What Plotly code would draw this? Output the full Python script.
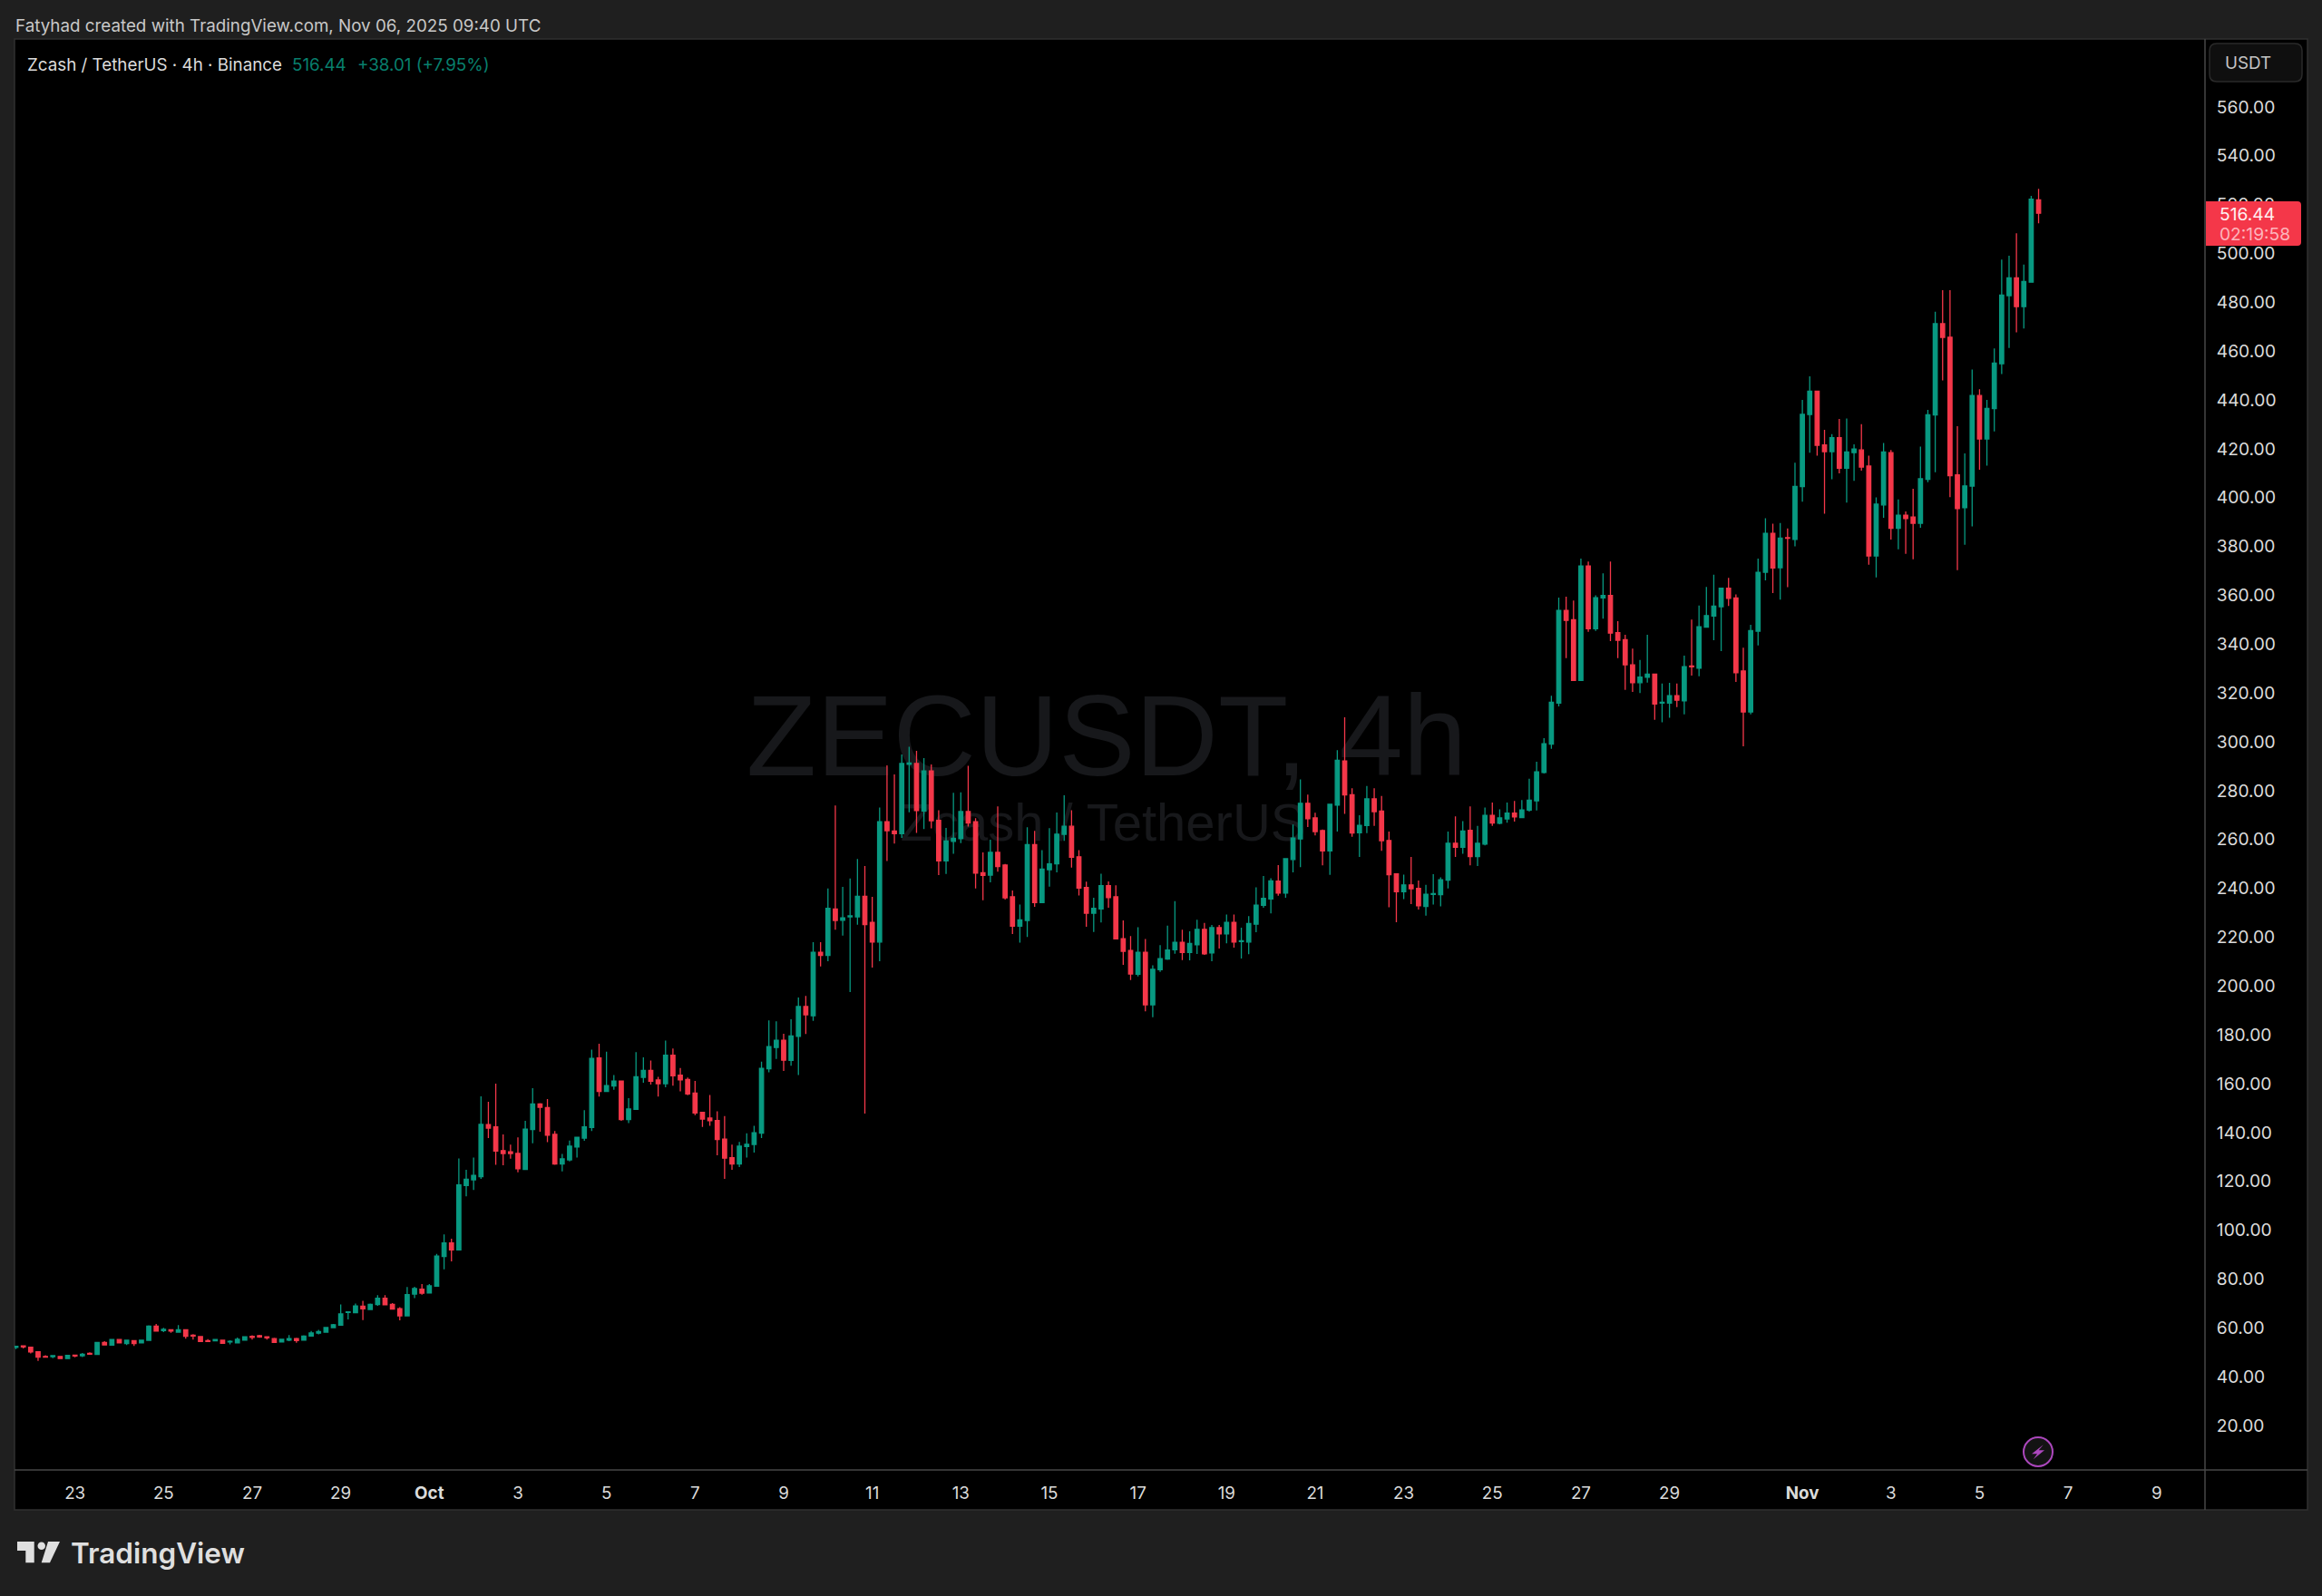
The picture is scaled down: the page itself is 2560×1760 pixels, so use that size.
import pandas as pd
import plotly.graph_objects as go

# 4h candles, Sep 21 16:00 UTC onward
first_bar = "2025-09-21 16:00"

opens = [
    52.0,52.6,52.1,50.2,48.3,48.2,48.3,47.4,48.8,48.6,
    49.6,49.1,54.0,52.9,55.2,53.6,54.8,53.8,54.9,60.7,
    58.9,59.2,58.2,59.2,57.0,56.4,54.8,54.7,54.9,54.2,
    53.8,55.0,56.5,56.8,56.3,55.6,54.2,55.0,55.6,55.0,
    56.6,57.8,58.2,60.1,61.1,66.3,66.2,68.9,67.5,69.5,
    72.1,69.6,67.8,64.9,73.8,75.8,74.3,77.1,89.2,94.8,
    91.9,118.3,120.6,121.9,143.2,142.3,132.6,132.1,131.4,124.9,
    141.2,151.7,150.2,139.2,127.1,128.8,134.1,137.7,142.0,170.5,
    156.8,159.0,161.1,145.3,149.5,162.6,165.4,161.5,160.0,171.6,
    163.5,161.7,156.1,148.2,145.9,144.9,137.3,129.7,127.1,134.2,
    135.1,139.7,166.1,174.8,177.8,169.5,179.4,191.6,187.8,213.8,
    212.5,231.5,226.9,228.3,228.3,236.7,226.0,218.0,267.3,263.5,
    262.4,290.8,291.1,271.6,288.1,267.8,251.2,259.2,260.3,271.4,
    267.3,246.4,245.4,254.7,249.5,236.5,224.5,226.8,257.9,234.1,
    247.6,250.0,262.1,265.4,252.9,240.3,229.8,231.5,241.1,236.5,
    219.4,214.5,204.8,213.8,192.3,206.7,211.0,214.8,217.9,213.7,
    216.9,223.2,213.5,223.9,221.3,226.0,218.2,218.0,225.3,233.0,
    235.6,242.9,238.0,251.8,260.2,274.8,268.8,263.6,255.3,274.1,
    292.1,278.3,262.7,265.7,276.6,271.6,259.6,245.9,238.6,241.4,
    240.0,232.6,237.5,237.4,243.3,258.4,256.8,263.7,253.0,258.1,
    269.9,266.6,268.4,270.8,269.0,272.0,275.8,287.4,299.0,315.8,
    353.8,350.0,325.1,372.0,346.3,358.9,359.9,344.7,341.8,331.5,
    324.2,326.4,327.7,315.8,315.8,318.9,316.8,331.0,330.1,346.9,
    351.5,355.3,362.9,358.9,329.0,312.2,345.3,369.4,385.4,371.3,
    383.6,382.9,404.5,434.0,443.6,421.6,418.8,424.5,412.0,418.4,
    419.5,412.9,376.1,397.0,418.4,387.4,392.8,392.0,389.5,407.5,
    433.8,471.2,465.7,409.3,395.9,404.7,441.8,424.0,436.4,454.8,
    482.7,490.0,478.2,488.2,521.9,
]
highs = [
    52.6,52.6,52.2,50.2,48.8,48.6,48.3,49.0,49.0,49.7,
    50.0,54.2,54.5,55.5,55.5,55.2,54.8,55.2,61.0,61.6,
    60.0,59.2,61.1,59.2,57.4,56.6,55.4,55.3,55.2,54.9,
    56.0,56.4,56.9,57.1,56.4,55.9,55.5,57.0,55.9,56.9,
    58.7,59.2,60.2,61.6,69.6,66.7,69.9,71.1,69.9,73.4,
    73.4,70.1,68.5,76.7,76.8,77.9,77.9,90.3,98.3,96.5,
    129.4,124.7,129.7,154.8,152.6,160.0,139.2,135.0,138.0,144.8,
    158.1,152.0,153.7,140.6,131.2,136.7,138.3,149.1,173.9,176.3,
    173.1,163.5,161.2,154.1,172.9,170.8,169.5,162.8,177.6,174.4,
    166.4,162.5,161.1,148.5,155.4,148.7,146.7,135.0,136.1,139.7,
    142.7,169.0,185.9,185.5,180.4,186.4,195.3,195.9,217.9,217.9,
    239.9,273.9,240.6,244.0,252.0,249.1,236.5,273.1,290.3,286.6,
    294.8,298.0,296.3,293.3,290.7,272.0,264.7,279.1,279.3,290.2,
    268.7,254.7,259.9,273.5,250.0,239.1,233.3,265.0,263.5,255.6,
    264.6,271.0,278.1,272.0,255.6,242.7,236.1,246.0,242.8,241.2,
    226.8,220.4,224.1,219.2,208.5,216.7,224.7,234.7,223.0,222.4,
    227.1,225.8,225.0,225.0,229.3,229.3,223.9,228.6,240.4,245.0,
    244.1,249.5,252.4,266.1,284.6,278.4,270.9,264.1,274.6,296.6,
    310.0,281.0,269.9,281.9,281.0,277.8,263.2,246.1,245.6,252.8,
    243.2,241.4,245.8,244.5,263.2,269.5,267.5,273.5,265.6,273.1,
    275.1,272.3,275.1,275.8,276.1,284.9,291.8,301.5,318.8,359.0,
    359.4,357.8,375.0,373.8,360.0,369.0,373.8,349.4,343.8,338.2,
    333.5,343.8,327.7,323.9,324.1,323.9,335.3,350.0,355.8,363.4,
    368.4,363.0,367.1,360.3,338.5,347.9,375.0,391.5,389.3,389.6,
    387.4,414.3,440.0,449.7,443.6,427.7,426.0,432.2,432.4,421.8,
    430.1,417.2,400.1,422.4,419.5,399.2,394.3,403.6,420.9,435.9,
    476.1,484.9,484.9,429.2,418.1,452.4,444.4,440.0,461.1,497.5,
    499.0,508.2,495.4,523.6,526.4,
]
lows = [
    51.3,51.6,49.5,46.5,47.9,47.6,47.2,47.2,47.9,48.0,
    49.1,49.1,52.9,52.9,53.7,53.0,52.6,53.8,54.9,58.6,
    58.2,58.0,58.2,55.6,55.2,54.3,54.3,54.4,53.6,53.2,
    53.8,54.9,55.2,55.9,55.2,53.8,54.0,54.5,53.9,55.0,
    56.5,57.3,58.1,60.0,61.0,63.4,66.2,63.2,67.3,69.0,
    69.3,67.5,63.1,64.9,72.2,73.6,74.3,77.1,84.0,87.2,
    91.7,113.9,116.5,121.0,137.7,126.8,126.6,129.3,123.7,124.6,
    135.6,140.3,136.0,126.8,124.1,128.2,129.7,136.6,140.6,154.7,
    156.8,157.5,144.8,143.8,149.5,160.4,159.6,154.7,158.5,159.2,
    156.8,155.3,147.1,142.3,142.7,130.7,121.0,124.7,125.8,129.7,
    131.8,137.7,164.6,170.1,165.2,167.3,163.5,180.3,185.7,208.0,
    210.1,223.0,220.6,197.5,225.1,147.7,207.5,210.1,251.2,258.3,
    260.6,271.1,262.7,264.3,264.5,245.4,245.9,254.1,258.5,265.3,
    239.9,235.1,242.4,246.8,235.4,221.3,217.7,220.1,232.4,234.1,
    240.7,246.5,259.4,248.5,237.1,224.2,222.1,226.0,232.0,219.3,
    208.6,202.4,203.9,189.6,187.2,205.8,210.7,213.2,210.6,210.5,
    213.1,212.7,210.1,215.3,217.5,215.7,211.2,213.0,222.0,232.0,
    229.7,237.0,236.1,246.5,248.7,265.1,261.7,249.4,245.5,263.2,
    270.5,261.1,252.8,262.6,265.6,255.3,232.2,226.1,235.6,233.5,
    231.3,228.8,233.3,232.6,239.9,252.8,254.1,249.4,249.1,257.6,
    265.6,266.2,266.9,267.3,269.0,271.4,271.9,287.0,297.1,314.5,
    334.3,325.1,325.1,345.0,345.4,350.4,341.2,334.3,321.3,320.4,
    320.0,324.2,309.0,308.0,309.8,314.2,311.2,327.1,326.8,346.9,
    341.6,337.1,355.6,324.5,298.1,311.2,339.5,366.1,360.9,358.2,
    363.3,380.0,398.3,418.4,417.2,393.4,407.5,409.9,397.9,406.9,
    411.0,372.5,367.3,391.7,382.8,378.8,377.0,374.7,387.6,406.3,
    410.4,448.0,400.2,370.3,380.7,388.2,411.4,413.1,427.1,450.6,
    461.3,467.7,469.2,488.2,512.3,
]
closes = [
    52.4,52.2,50.1,48.0,48.0,48.6,47.4,48.7,48.5,49.2,
    49.2,54.0,53.0,55.2,53.8,54.9,53.6,54.9,60.7,58.7,
    59.4,58.7,59.2,56.5,56.6,54.4,54.4,55.2,53.7,54.5,
    55.3,56.3,56.1,56.3,55.9,54.0,55.3,55.6,54.8,56.6,
    57.9,58.5,60.1,61.3,65.7,66.5,69.0,67.8,69.6,72.1,
    69.4,67.7,64.9,73.6,76.1,74.2,77.2,89.4,94.8,91.9,
    118.5,120.9,122.4,143.3,141.8,132.4,131.4,131.4,125.1,141.4,
    151.7,150.3,138.9,127.1,129.2,134.4,138.0,142.3,170.3,156.8,
    159.2,161.1,145.3,149.6,162.8,165.4,161.0,160.0,171.6,163.2,
    161.5,155.8,148.0,145.5,144.8,137.1,129.5,127.1,134.4,135.2,
    139.9,166.3,175.2,177.8,169.6,179.5,191.6,188.2,213.8,212.5,
    231.8,226.8,227.9,228.7,236.7,225.1,218.0,267.3,263.6,262.4,
    291.1,291.3,271.8,288.1,267.7,251.2,259.4,260.5,271.4,266.7,
    246.2,245.3,254.7,248.9,236.1,224.5,227.1,257.9,234.1,247.9,
    250.0,262.2,265.4,252.7,240.1,229.8,231.8,241.1,236.2,219.3,
    214.2,204.9,213.8,192.3,206.8,211.2,214.7,217.9,213.7,217.4,
    223.2,213.2,223.9,221.3,226.0,218.0,218.5,225.6,233.1,235.9,
    243.0,238.0,252.1,260.6,274.8,268.5,263.2,255.3,274.4,292.4,
    278.2,262.6,265.8,276.6,271.4,259.5,245.6,238.6,241.4,239.8,
    232.8,237.6,237.8,243.5,258.4,256.8,263.5,253.0,258.4,269.9,
    266.7,268.8,270.8,269.2,272.1,276.1,287.7,299.2,316.2,353.8,
    349.7,325.1,372.0,346.3,359.0,359.9,344.5,341.6,331.5,324.2,
    326.5,327.7,315.5,316.2,318.9,317.0,330.8,330.7,347.1,351.7,
    355.6,362.9,358.7,328.3,312.2,345.5,369.4,385.4,371.2,383.4,
    383.3,404.6,434.1,443.6,421.4,418.8,424.5,412.0,418.7,419.9,
    412.5,376.1,397.3,418.7,387.4,392.8,391.4,389.5,407.7,433.9,
    471.2,465.6,409.0,395.5,404.8,441.8,424.0,436.5,455.1,482.9,
    490.0,478.2,488.5,522.2,516.44,
]

price_ticks = list(range(20, 561, 20))
date_ticks = [
    "2025-09-23", "2025-09-25", "2025-09-27", "2025-09-29", "2025-10-01",
    "2025-10-03", "2025-10-05", "2025-10-07", "2025-10-09", "2025-10-11",
    "2025-10-13", "2025-10-15", "2025-10-17", "2025-10-19", "2025-10-21",
    "2025-10-23", "2025-10-25", "2025-10-27", "2025-10-29", "2025-11-01",
    "2025-11-03", "2025-11-05", "2025-11-07", "2025-11-09",
]
date_labels = [
    "23", "25", "27", "29", "<b>Oct</b>", "3", "5", "7", "9", "11", "13", "15",
    "17", "19", "21", "23", "25", "27", "29", "<b>Nov</b>", "3", "5", "7", "9",
]

GREEN = "#089981"
RED = "#f43749"
PAGE = "#1f1f1f"
RULE = "#474747"
FONT = "Inter"

# plot area in page pixels
W, H = 2560, 1760
L, R, T, B = 16, 2431, 43, 1621


def px(x):
    return (x - L) / (R - L)


def py(y):
    return (B - y) / (B - T)


def box(x0, y0, x1, y1, **kw):
    return dict(type="rect", xref="paper", yref="paper", x0=px(x0), x1=px(x1),
                y0=py(y0), y1=py(y1), **kw)


def rule(x0, y0, x1, y1, color=RULE, width=1.5):
    return dict(type="line", xref="paper", yref="paper", x0=px(x0), x1=px(x1),
                y0=py(y0), y1=py(y1), line=dict(color=color, width=width))


def poly(points, **kw):
    d = "M" + " L".join(f"{px(x):.5f},{py(y):.5f}" for x, y in points) + " Z"
    return dict(type="path", xref="paper", yref="paper", path=d, **kw)


def rounded(x0, y0, x1, y1, rl, rr, **kw):
    d = (f"M{px(x0 + rl):.5f},{py(y0):.5f} L{px(x1 - rr):.5f},{py(y0):.5f} "
         f"Q{px(x1):.5f},{py(y0):.5f} {px(x1):.5f},{py(y0 + rr):.5f} "
         f"L{px(x1):.5f},{py(y1 - rr):.5f} "
         f"Q{px(x1):.5f},{py(y1):.5f} {px(x1 - rr):.5f},{py(y1):.5f} "
         f"L{px(x0 + rl):.5f},{py(y1):.5f} "
         f"Q{px(x0):.5f},{py(y1):.5f} {px(x0):.5f},{py(y1 - rl):.5f} "
         f"L{px(x0):.5f},{py(y0 + rl):.5f} "
         f"Q{px(x0):.5f},{py(y0):.5f} {px(x0 + rl):.5f},{py(y0):.5f} Z")
    return dict(type="path", xref="paper", yref="paper", path=d, **kw)


def label(x, y, text, size, color, anchor="left", weight=None, family=FONT):
    return dict(xref="paper", yref="paper", x=px(x), y=py(y), text=text, showarrow=False,
                xanchor=anchor, yanchor="middle", align="left",
                font=dict(family=family, size=size, color=color, weight=weight))


dates = pd.date_range(first_bar, periods=len(opens), freq="4h")

fig = go.Figure()

# watermark sits behind the candles
fig.add_trace(go.Scatter(
    x=["2025-10-16 07:00"], y=[298], mode="text", text=["ZECUSDT, 4h"],
    textposition="middle center", hoverinfo="skip", showlegend=False,
    textfont=dict(family="Liberation Sans", size=126.5, color="#17181b"), zorder=0,
))
fig.add_trace(go.Scatter(
    x=["2025-10-16 05:00"], y=[265], mode="text", text=["Zcash / TetherUS"],
    textposition="middle center", hoverinfo="skip", showlegend=False,
    textfont=dict(family="Liberation Sans", size=58, color="#17181b"), zorder=0,
))
fig.add_trace(go.Candlestick(
    x=dates, open=opens, high=highs, low=lows, close=closes,
    increasing=dict(line=dict(color=GREEN, width=1.3), fillcolor=GREEN),
    decreasing=dict(line=dict(color=RED, width=1.3), fillcolor=RED),
    whiskerwidth=0, showlegend=False, zorder=1,
))

shapes = [
    box(16, 43, 2544, 1665, fillcolor="#000000", line=dict(color="#303030", width=1.5), layer="below"),
    rule(R, 43, R, 1665),
    rule(16, B, 2544, B),
    rounded(2436, 48, 2538, 90, 8, 8, fillcolor="#0f0f0f", line=dict(color="#2a2a2a", width=1.5)),
    rounded(2432, 222, 2537, 271, 0, 4, fillcolor=RED, line=dict(width=0)),
    # bolt marker
    dict(type="circle", xref="paper", yref="paper", x0=px(2231), x1=px(2263), y0=py(1617), y1=py(1585),
         fillcolor="#131313", line=dict(color="#ab47bc", width=2)),
    poly([(2252.7, 1593.3), (2240, 1603.3), (2246, 1603.3), (2241.7, 1609.3), (2254, 1599.3), (2247.7, 1599.3)],
         fillcolor="#ab47bc", line=dict(width=0)),
    # TradingView mark
    poly([(19, 1700), (37.7, 1700), (37.7, 1723.3), (28.3, 1723.3), (28.3, 1710), (19, 1710)],
         fillcolor="#dfdfdf", line=dict(width=0)),
    dict(type="circle", xref="paper", yref="paper", x0=px(41.5), x1=px(50), y0=py(1709), y1=py(1700.5),
         fillcolor="#dfdfdf", line=dict(width=0)),
    poly([(53, 1700), (66, 1700), (55, 1723.3), (45.7, 1723.3)], fillcolor="#dfdfdf", line=dict(width=0)),
]

annotations = [
    label(15, 28, "Fatyhad created with TradingView.com, Nov 06, 2025 09:40 UTC", 18.8, "#c8c8c8"),
    label(28, 71, "Zcash / TetherUS · 4h · Binance", 18.8, "#dbdbdb"),
    label(320, 71, "516.44", 18.8, "#087f6d"),
    label(392, 71, "+38.01 (+7.95%)", 18.8, "#087f6d"),
    label(2451, 70, "USDT", 18.8, "#c4c4c4"),
    label(2445, 236, "516.44", 19.2, "#fff0f1"),
    label(2445, 258, "02:19:58", 19.2, "#fdb4bb"),
    label(76, 1712, "TradingView", 31.5, "#dfdfdf", weight=600),
]

fig.update_layout(
    template="none",
    width=W, height=H,
    margin=dict(l=L, r=W - R, t=T, b=H - B, pad=0),
    paper_bgcolor=PAGE, plot_bgcolor="#000000",
    boxgap=0.22,
    showlegend=False,
    shapes=shapes,
    annotations=annotations,
    font=dict(family=FONT, size=18, color="#dbdbdb"),
)
fig.update_xaxes(
    type="date", range=["2025-09-21 15:14", "2025-11-10 02:10"],
    rangeslider=dict(visible=False), automargin=False, showgrid=False, zeroline=False,
    showline=False, tickmode="array", tickvals=date_ticks, ticktext=date_labels,
    ticks="outside", ticklen=8, tickcolor="rgba(0,0,0,0)",
    tickfont=dict(family=FONT, size=18.8, color="#dbdbdb"),
)
fig.update_yaxes(
    range=[1.8, 587.8], side="right", automargin=False, showgrid=False, zeroline=False,
    showline=False, tickmode="array", tickvals=price_ticks,
    ticktext=[f"{v:.2f}" for v in price_ticks],
    ticks="outside", ticklen=8, tickcolor="rgba(0,0,0,0)",
    tickfont=dict(family=FONT, size=19.2, color="#dbdbdb"),
)

fig.write_html(
    "out.html",
    config=dict(displayModeBar=False),
    post_script="document.body.style.margin='0';document.body.style.background='#1f1f1f';",
)
